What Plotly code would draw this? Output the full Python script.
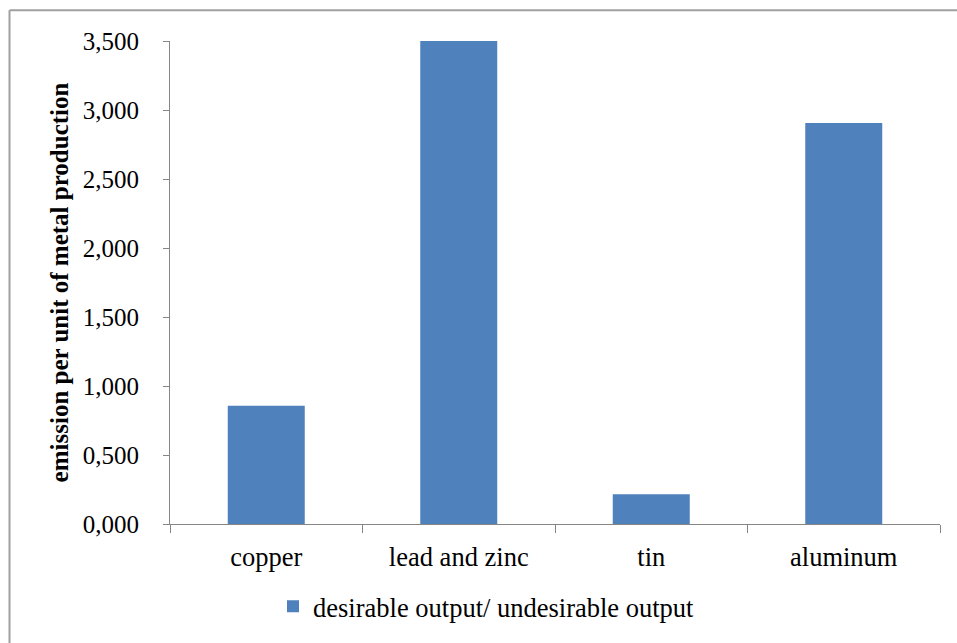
import plotly.graph_objects as go

categories = ["copper", "lead and zinc", "tin", "aluminum"]
values = [857, 3510, 215, 2905]
series_name = "desirable output/ undesirable output"
y_tickvals = [0, 500, 1000, 1500, 2000, 2500, 3000, 3500]
y_ticktext = ["0,000", "0,500", "1,000", "1,500", "2,000", "2,500", "3,000", "3,500"]

FONT = "Liberation Serif, Times New Roman, serif"
W, H = 957, 643
ML, MR, MT, MB = 170, 17, 41, 116
pw, ph = W - ML - MR, H - MT - MB

def px_x(p):
    return (p - ML) / pw

def px_y(p):
    return (H - MB - p) / ph

fig = go.Figure()
fig.add_trace(go.Bar(
    x=categories, y=values, name=series_name,
    marker=dict(color="#4F81BD", line=dict(width=0)),
    cliponaxis=False, showlegend=True,
))

fig.update_layout(
    width=W, height=H,
    margin=dict(l=ML, r=MR, t=MT, b=MB),
    paper_bgcolor="white", plot_bgcolor="white",
    font=dict(family=FONT, size=25, color="black"),
    bargap=0.6,
    showlegend=True,
    legend=dict(orientation="h", x=px_x(273), xanchor="left",
                y=px_y(610), yanchor="middle",
                font=dict(family=FONT, size=26.5, color="black"),
                itemwidth=30, bgcolor="rgba(0,0,0,0)"),
    xaxis=dict(
        showline=True, linecolor="#868686", linewidth=1,
        ticks="outside", ticklen=8, tickcolor="#868686", tickwidth=1,
        tickson="boundaries", showgrid=False, zeroline=False,
        ticklabelstandoff=9,
        tickfont=dict(family=FONT, size=26.5, color="black"),
    ),
    yaxis=dict(
        range=[0, 3500], tickvals=y_tickvals, ticktext=y_ticktext,
        showline=True, linecolor="#868686", linewidth=1,
        ticks="outside", ticklen=6, tickcolor="#868686", tickwidth=1,
        showgrid=False, zeroline=False,
        ticklabelstandoff=19,
        tickfont=dict(family=FONT, size=25, color="black"),
        title=dict(text="<b>emission per unit of metal production</b>",
                   font=dict(family=FONT, size=25, color="black"),
                   standoff=7),
    ),
    shapes=[
        dict(type="line", xref="paper", yref="paper",
             x0=px_x(9.5), x1=px_x(W + 5), y0=px_y(10), y1=px_y(10),
             line=dict(color="#A0A0A0", width=2)),
        dict(type="line", xref="paper", yref="paper",
             x0=px_x(9.5), x1=px_x(9.5), y0=px_y(10), y1=px_y(H + 5),
             line=dict(color="#A0A0A0", width=2)),
    ],
)

fig.write_html(
    "out.html",
    config={"displayModeBar": False},
    post_script="document.body.style.margin='0';document.body.style.overflow='hidden';",
)
